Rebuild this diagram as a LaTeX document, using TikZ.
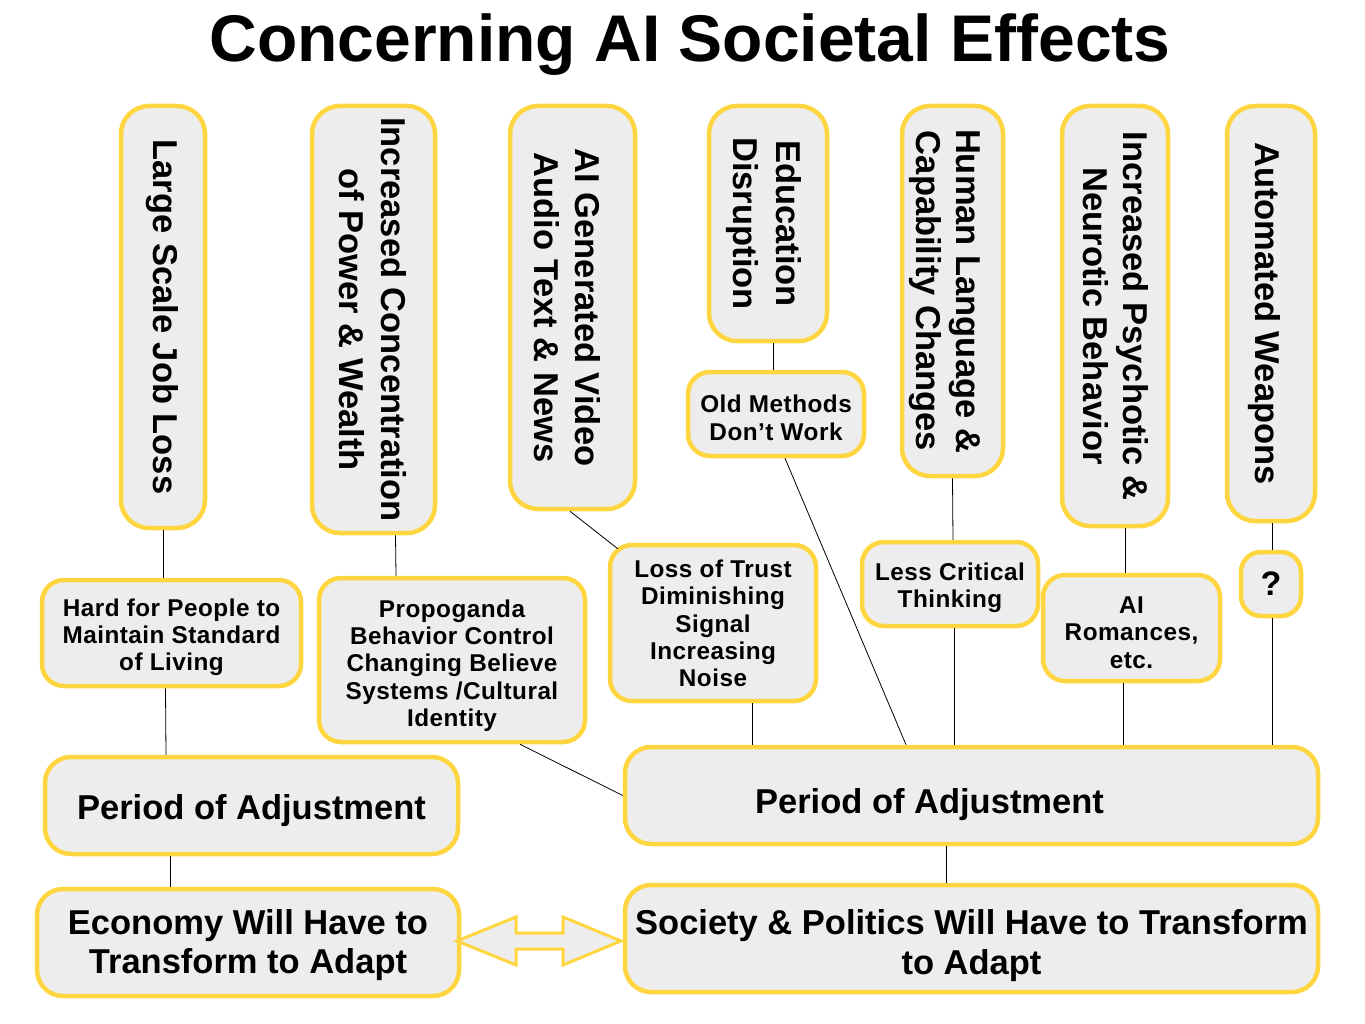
\documentclass[tikz,border=0pt]{standalone}
\usepackage{fontspec}
\setmainfont{Liberation Sans}
\newfontfamily\spcfont{Liberation Sans}[LetterSpace=2.0]
\usetikzlibrary{calc}
\definecolor{gold}{RGB}{255,214,64}
\definecolor{boxfill}{RGB}{237,237,237}
\tikzset{
  box/.style={draw=gold, fill=boxfill, line width=4.5pt, rounded corners=24pt, align=center, inner sep=2pt, font=\bfseries},
  vbox/.style={box, rounded corners=28pt, font=\bfseries},
  sbox/.style={box, rounded corners=22pt, font=\spcfont\bfseries\fontsize{24.3}{27.3}\selectfont},
  bbox/.style={box, rounded corners=26pt, font=\bfseries\fontsize{34.5}{39.5}\selectfont},
  link/.style={draw=black, line width=0.8pt},
}
\newcommand{\vtext}[3]{\rotatebox{-90}{\fontsize{34.5}{#2}\selectfont\raisebox{-#1}[\height][\depth]{\begin{tabular}{@{}c@{}}#3\end{tabular}}}}
\newcommand{\tx}[2]{\raisebox{-#1}[\height][\depth]{\begin{tabular}{@{}c@{}}#2\end{tabular}}}
\begin{document}
\begin{tikzpicture}[x=1pt,y=-1pt]
\useasboundingbox (0,0) rectangle (1365,1024);
\fill[white] (0,0) rectangle (1365,1024);

\node[anchor=base, inner sep=0pt, font=\bfseries\fontsize{66}{70}\selectfont] (title) at (690,61.7) {Concerning AI Societal Effects};

% vertical boxes
\node[vbox, minimum width=84, minimum height=422] (v1) at (163,317) {\vtext{1.4pt}{43}{Large Scale Job Loss}};
\node[vbox, minimum width=123, minimum height=427] (v2) at (373.5,319.5) {\vtext{5pt}{42}{Increased Concentration\\of Power \& Wealth}};
\node[vbox, minimum width=125, minimum height=403] (v3) at (572.5,307.5) {\vtext{9.3pt}{41}{AI Generated Video\\Audio Text \& News}};
\node[vbox, minimum width=118, minimum height=235] (v4) at (768,223.5) {\vtext{4.4pt}{43}{Education\\Disruption}};
\node[vbox, minimum width=101, minimum height=370] (v5) at (952.5,291) {\vtext{8.3pt}{40}{Human Language \&\\Capability Changes}};
\node[vbox, minimum width=106, minimum height=420] (v6) at (1115,316) {\vtext{3.3pt}{40}{Increased Psychotic \&\\Neurotic Behavior}};
\node[vbox, minimum width=88, minimum height=415] (v7) at (1271,313.5) {\vtext{7.4pt}{43}{Automated Weapons}};

% middle boxes
\node[sbox, minimum width=176, minimum height=84] (m1) at (776,414) {\tx{7pt}{Old Methods\\Don’t Work}};
\node[sbox, minimum width=259, minimum height=106] (m2) at (171.5,633) {\tx{5pt}{Hard for People to\\Maintain Standard\\of Living}};
\node[sbox, minimum width=266, minimum height=164] (m3) at (452,660) {\tx{6.5pt}{Propoganda\\Behavior Control\\Changing Believe\\Systems /Cultural\\Identity}};
\node[sbox, minimum width=206, minimum height=156] (m4) at (713,623) {\tx{3.6pt}{Loss of Trust\\Diminishing\\Signal\\Increasing\\Noise}};
\node[sbox, minimum width=176, minimum height=84] (m5) at (950,584) {\tx{4.7pt}{Less Critical\\Thinking}};
\node[sbox, minimum width=177, minimum height=106] (m6) at (1131.5,628) {\tx{7.5pt}{AI\\Romances,\\etc.}};
\node[box, rounded corners=20pt, minimum width=60, minimum height=64, font=\bfseries\fontsize{34}{40}\selectfont] (m7) at (1271,584) {\tx{3pt}{?}};

% bottom boxes
\node[bbox, minimum width=413, minimum height=97] (b1) at (251.5,805.5) {\tx{6pt}{Period of Adjustment}};
\node[bbox, minimum width=693, minimum height=97] (b2) at (971.5,795.5) {\tx{10pt}{Period of Adjustment\hspace*{84pt}}};
\node[bbox, minimum width=422, minimum height=107] (b3) at (248,942.5) {\tx{3.4pt}{Economy Will Have to\\Transform to Adapt}};
\node[bbox, minimum width=693, minimum height=107] (b4) at (971.5,938.5) {\tx{8.2pt}{Society \& Politics Will Have to Transform\\to Adapt}};

% connectors
\draw[link] (v1.south) -- (m2.north -| v1.south);
\draw[link] ([xshift=-6pt]m2.south) -- ([xshift=-85.5pt]b1.north);
\draw[link] ([xshift=-81.5pt]b1.south) -- ([xshift=-78pt]b3.north);
\draw[link] ([xshift=22pt]v2.south) -- ([xshift=-56pt]m3.north);
\draw[link] ([xshift=68pt]m3.south) -- (b2.west);
\draw[link] ([xshift=-2.5pt]v3.south) -- ([xshift=10pt,yshift=-6pt]m4.north west);
\draw[link] ([xshift=39pt]m4.south) -- ([xshift=-219.5pt]b2.north);
\draw[link] ([xshift=5pt]v4.south) -- ([xshift=-3pt]m1.north);
\draw[link] ([xshift=9pt]m1.south) -- ([xshift=-65.5pt]b2.north);
\draw[link] (v5.south) -- ([xshift=3pt]m5.north);
\draw[link] ([xshift=4pt]m5.south) -- ([xshift=-17.5pt]b2.north);
\draw[link] ([xshift=10pt]v6.south) -- ([xshift=-6.5pt]m6.north);
\draw[link] ([xshift=-8.5pt]m6.south) -- ([xshift=151.5pt]b2.north);
\draw[link] ([xshift=1pt]v7.south) -- ([xshift=1pt]m7.north);
\draw[link] ([xshift=1pt]m7.south) -- ([xshift=300.5pt]b2.north);
\draw[link] ([xshift=-25.5pt]b2.south) -- ([xshift=-25.5pt]b4.north);

% double arrow between bottom boxes
\draw[draw=gold, fill=boxfill, line width=3pt, line join=miter]
  (457,941) -- (516,917) -- (516,933) -- (563,933) -- (563,917) -- (621,941)
  -- (563,965) -- (563,949) -- (516,949) -- (516,965) -- cycle;
\end{tikzpicture}
\end{document}
